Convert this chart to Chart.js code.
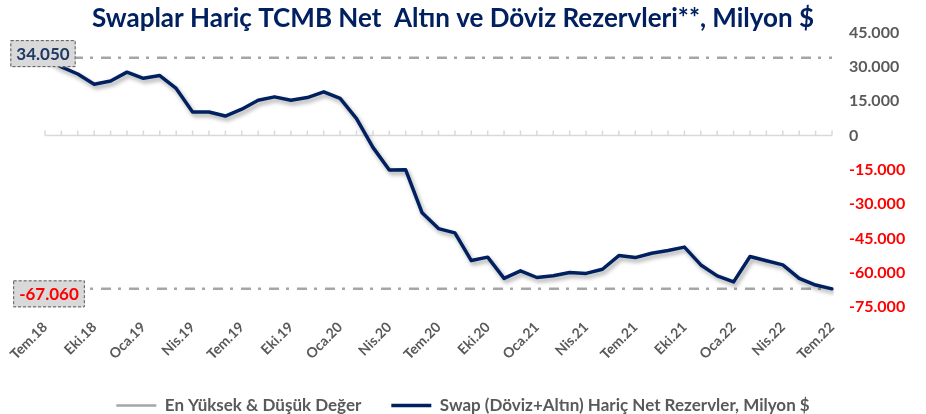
<!DOCTYPE html>
<html>
<head>
<meta charset="utf-8">
<script src="https://cdn.jsdelivr.net/npm/chart.js@4.4.1/dist/chart.umd.min.js"></script>
<style>
    body { margin: 0; background: #ffffff; }
    #wrap { width: 926px; height: 414px; }
</style>
</head>
<body>
<div id="wrap"><canvas id="myChart"></canvas></div>
<script>
// monthly categories, Tem.18 .. Tem.22
const months = [
    'Tem.18', 'Ağu.18', 'Eyl.18', 'Eki.18', 'Kas.18', 'Ara.18',
    'Oca.19', 'Şub.19', 'Mar.19', 'Nis.19', 'May.19', 'Haz.19',
    'Tem.19', 'Ağu.19', 'Eyl.19', 'Eki.19', 'Kas.19', 'Ara.19',
    'Oca.20', 'Şub.20', 'Mar.20', 'Nis.20', 'May.20', 'Haz.20',
    'Tem.20', 'Ağu.20', 'Eyl.20', 'Eki.20', 'Kas.20', 'Ara.20',
    'Oca.21', 'Şub.21', 'Mar.21', 'Nis.21', 'May.21', 'Haz.21',
    'Tem.21', 'Ağu.21', 'Eyl.21', 'Eki.21', 'Kas.21', 'Ara.21',
    'Oca.22', 'Şub.22', 'Mar.22', 'Nis.22', 'May.22', 'Haz.22',
    'Tem.22'
];

// net reserves excluding swaps, million $
const netReserves = [
    34050, 30000, 26900, 22400, 23800, 27700, 25000, 26200, 20600, 10300,
    10300, 8500, 11500, 15400, 16900, 15400, 16600, 19100, 16200, 7400,
    -5200, -15100, -15000, -33800, -40700, -42600, -54700, -53200, -62500, -59200,
    -62100, -61300, -59900, -60300, -58500, -52500, -53400, -51500, -50300, -48800,
    -56600, -61400, -64000, -52900, -54800, -56600, -62500, -65400, -67060
];

const highValue = 34050;
const lowValue = -67060;

const yTicks = [-75000, -60000, -45000, -30000, -15000, 0, 15000, 30000, 45000];

const titleText = 'Swaplar Hariç TCMB Net  Altın ve Döviz Rezervleri**, Milyon $';
const seriesName = 'Swap (Döviz+Altın) Hariç Net Rezervler, Milyon $';
const extremaName = 'En Yüksek & Düşük Değer';

const FONT = 'Lato';

function fmt(v) {
    const s = Math.abs(Math.round(v)).toString().replace(/\B(?=(\d{3})+(?!\d))/g, '.');
    return (v < 0 ? '-' : '') + s;
}

// zero line with small tick marks, like the excel category axis
const zeroAxis = {
    id: 'zeroAxis',
    beforeDatasetsDraw(chart) {
        const ctx = chart.ctx;
        const x = chart.scales.x;
        const y0 = chart.scales.y.getPixelForValue(0);
        ctx.save();
        ctx.strokeStyle = '#D9D9D9';
        ctx.lineWidth = 1.5;
        ctx.beginPath();
        ctx.moveTo(chart.chartArea.left, y0);
        ctx.lineTo(chart.chartArea.right, y0);
        for (let i = 0; i < months.length; i++) {
            const px = x.getPixelForValue(i);
            ctx.moveTo(px, y0);
            ctx.lineTo(px, y0 - 5);
        }
        ctx.stroke();
        ctx.restore();
    }
};

// the original title sits a little left of centre
const titleShift = {
    id: 'titleShift',
    afterLayout(chart) {
        chart.titleBlock.left -= 10;
        chart.titleBlock.right -= 10;
    }
};

// soft shadow under the main line
const lineShadow = {
    id: 'lineShadow',
    beforeDatasetDraw(chart, args) {
        if (args.index !== 0) return;
        const ctx = chart.ctx;
        ctx.save();
        ctx.shadowColor = 'rgba(0,0,0,0.35)';
        ctx.shadowBlur = 4;
        ctx.shadowOffsetX = 2;
        ctx.shadowOffsetY = 3;
    },
    afterDatasetDraw(chart, args) {
        if (args.index !== 0) return;
        chart.ctx.restore();
    }
};

// boxed labels for the high and low values
const extremaLabels = {
    id: 'extremaLabels',
    afterDatasetsDraw(chart) {
        const ctx = chart.ctx;
        const x0 = chart.scales.x.getPixelForValue(0);
        const y = chart.scales.y;
        const items = [
            { value: highValue, color: '#1F3864', dx: -2, dy: -4 },
            { value: lowValue, color: '#FF0000', dx: 4, dy: 5 }
        ];
        ctx.save();
        ctx.font = 'bold 17px ' + FONT;
        ctx.textAlign = 'center';
        ctx.textBaseline = 'middle';
        items.forEach((it) => {
            const text = fmt(it.value);
            const w = ctx.measureText(text).width + 12;
            const h = 27;
            const cx = x0 + it.dx;
            const cy = y.getPixelForValue(it.value) + it.dy;
            ctx.fillStyle = '#D9D9D9';
            ctx.fillRect(cx - w / 2, cy - h / 2, w, h);
            ctx.setLineDash([3, 2]);
            ctx.strokeStyle = '#595959';
            ctx.lineWidth = 1;
            ctx.strokeRect(cx - w / 2 + 0.5, cy - h / 2 + 0.5, w - 1, h - 1);
            ctx.setLineDash([]);
            ctx.fillStyle = it.color;
            ctx.fillText(text, cx, cy + 1);
        });
        ctx.restore();
    }
};

const dashDot = [10, 7, 3, 8];

const ctx = document.getElementById('myChart').getContext('2d');
const myChart = new Chart(ctx, {
    type: 'line',
    data: {
        labels: months,
        datasets: [{
            label: seriesName,
            data: netReserves,
            yAxisID: 'y',
            borderColor: '#002060',
            backgroundColor: '#002060',
            borderWidth: 3.5,
            borderJoinStyle: 'round',
            borderCapStyle: 'round',
            pointRadius: 0,
            pointStyle: 'line',
            tension: 0,
            fill: false
        }, {
            label: extremaName,
            data: months.map(() => highValue),
            yAxisID: 'y',
            borderColor: '#A6A6A6',
            backgroundColor: '#A6A6A6',
            borderWidth: 2.5,
            borderDash: dashDot,
            pointRadius: 0,
            pointStyle: 'line',
            fill: false
        }, {
            label: extremaName,
            data: months.map(() => lowValue),
            yAxisID: 'y',
            borderColor: '#A6A6A6',
            backgroundColor: '#A6A6A6',
            borderWidth: 2.5,
            borderDash: dashDot,
            pointRadius: 0,
            pointStyle: 'line',
            fill: false
        }]
    },
    options: {
        responsive: true,
        maintainAspectRatio: false,
        animation: false,
        layout: {
            padding: { left: 10, right: 10, top: 0, bottom: -10 }
        },
        plugins: {
            title: {
                display: true,
                text: titleText,
                color: '#002060',
                font: { family: FONT, size: 26, weight: 'bold', lineHeight: 1.1 },
                padding: { top: 4, bottom: 0 }
            },
            legend: {
                position: 'bottom',
                labels: {
                    color: '#595959',
                    font: { family: FONT, size: 17, weight: 'bold' },
                    usePointStyle: true,
                    pointStyleWidth: 40,
                    boxHeight: 10,
                    padding: 30,
                    filter: (item) => item.datasetIndex !== 2,
                    sort: (a, b) => b.datasetIndex - a.datasetIndex
                }
            },
            tooltip: { enabled: false }
        },
        scales: {
            x: {
                grid: { display: false, drawTicks: false },
                border: { display: false },
                ticks: {
                    autoSkip: false,
                    minRotation: 45,
                    maxRotation: 45,
                    padding: 12,
                    color: '#595959',
                    font: { family: FONT, size: 14, weight: 'bold' },
                    callback: (val, i) => (i % 3 === 0 ? months[i] : '')
                },
                afterFit: (scale) => { scale.height = 60; }
            },
            y: {
                position: 'right',
                min: -75000,
                max: 45000,
                afterBuildTicks: (scale) => {
                    scale.ticks = yTicks.map((v) => ({ value: v }));
                },
                grid: { display: false, drawTicks: false },
                border: { display: false },
                ticks: {
                    padding: 17,
                    color: (c) => (c.tick && c.tick.value < 0 ? '#FF0000' : '#595959'),
                    font: { family: FONT, size: 16, weight: 'bold' },
                    callback: (v) => fmt(v)
                },
                afterFit: (scale) => { scale.width = 84; }
            },
            // empty spacer on the left so the plot starts where the original does
            yl: {
                position: 'left',
                grid: { display: false, drawTicks: false },
                border: { display: false },
                ticks: { display: false },
                afterFit: (scale) => { scale.width = 35; }
            }
        }
    },
    plugins: [zeroAxis, titleShift, lineShadow, extremaLabels]
});
</script>
</body>
</html>
